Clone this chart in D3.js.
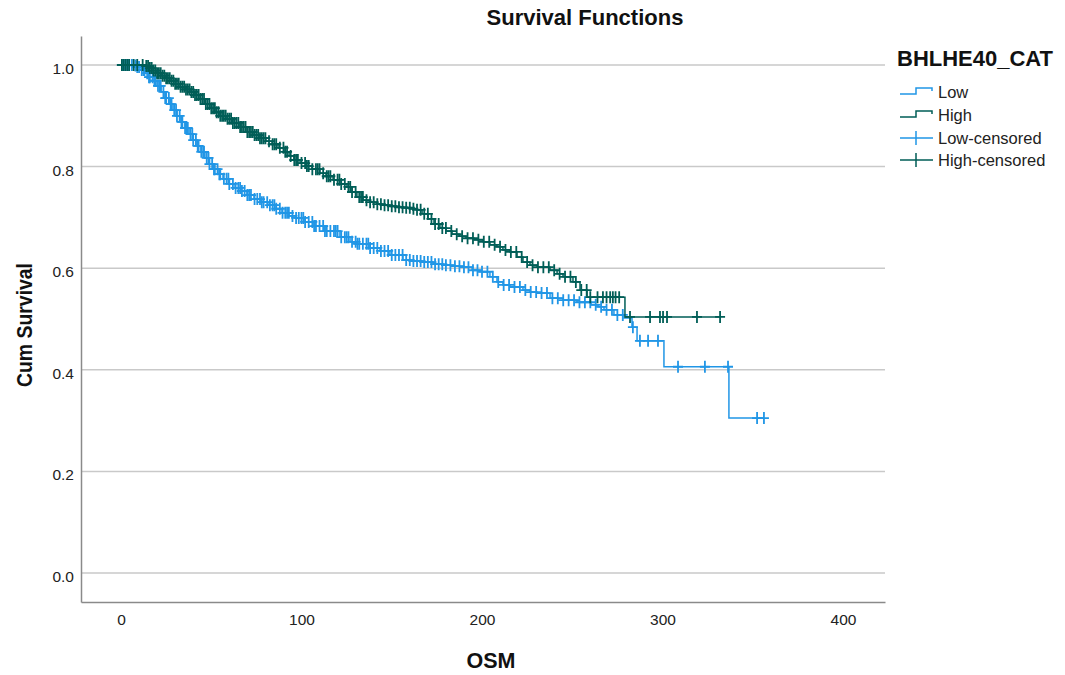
<!DOCTYPE html>
<meta charset="utf-8">
<title>Survival Functions</title>
<style>
body { margin: 0; background: #fff; }
svg { font-family: "Liberation Sans", Arial, sans-serif; }
</style>
<svg id="chart" width="1065" height="675"></svg>
<script src="https://cdn.jsdelivr.net/npm/d3@7"></script>
<script>
// step points: time (OSM) and cumulative survival after the event
var lowTimes = [0, 6.6, 8.9, 11.1, 13.3, 15.5, 17.7, 19.9, 22.2, 24.4, 26.6, 28.8, 31.0, 33.2, 35.5, 37.7, 39.9, 42.1, 44.3, 46.5, 48.8, 51.0, 53.7, 56.5, 59.8, 63.2, 66.5, 69.8, 73.7, 77.6, 81.4, 85.3, 89.2, 93.1, 97.0, 101.9, 106.4, 113.0, 121.3, 126.9, 130.7, 137.9, 143.5, 149.0, 156.2, 161.8, 167.3, 172.9, 178.4, 183.9, 189.5, 194.5, 198.9, 204.4, 208.3, 211.6, 215.5, 222.7, 226.6, 230.5, 237.7, 244.9, 252.6, 260.4, 264.3, 267.6, 273.1, 278.7, 283.1, 285.9, 300.8, 336.8];
var lowSurv = [1.0, 0.999, 0.996, 0.990, 0.984, 0.976, 0.969, 0.959, 0.947, 0.935, 0.923, 0.911, 0.900, 0.888, 0.876, 0.864, 0.852, 0.841, 0.829, 0.817, 0.805, 0.795, 0.785, 0.776, 0.766, 0.758, 0.752, 0.744, 0.736, 0.730, 0.724, 0.717, 0.709, 0.703, 0.699, 0.691, 0.683, 0.673, 0.661, 0.652, 0.648, 0.640, 0.634, 0.626, 0.616, 0.614, 0.612, 0.608, 0.606, 0.604, 0.602, 0.596, 0.593, 0.583, 0.573, 0.567, 0.563, 0.557, 0.553, 0.551, 0.541, 0.537, 0.533, 0.528, 0.524, 0.518, 0.508, 0.502, 0.484, 0.457, 0.406, 0.305];
var lowCensored = [0.5, 1.5, 2.5, 3.5, 4.5, 6, 8, 9, 10, 11.5, 12.5, 13, 14.5, 15.5, 16, 17.5, 18.5, 19, 20.5, 21.5, 22, 23.5, 24.5, 25, 26.5, 27.5, 28, 29.5, 30.5, 31, 32.5, 33.5, 34, 35.5, 36.5, 37, 38.5, 39.5, 40, 41.5, 42.5, 43, 44.5, 45.5, 46, 47.5, 48.5, 49, 50.5, 51.5, 52, 53.5, 54.5, 55, 57, 58.5, 59.5, 60, 62, 63.5, 65, 66, 67, 68.5, 70, 71, 72, 74, 75.5, 77, 78, 79, 81, 82.5, 84, 85, 86, 88, 89.5, 91, 92, 93, 95, 97, 98.5, 100, 101, 102, 104, 106, 107, 108, 110, 112, 113, 114, 116, 118, 119, 120, 122, 124, 125, 126, 128, 130, 131, 132, 134, 136, 137, 138, 140, 142, 144, 146, 148, 150, 152, 154, 156, 158, 160, 162, 164, 166, 168, 170, 172, 174, 176, 178, 180, 182.5, 185, 187.5, 190, 192.5, 195, 197.5, 200, 203, 206, 209, 212, 215, 218, 221, 224, 227, 230, 233, 236, 239, 242, 245, 248, 251, 254, 257, 260, 263, 266, 269, 272, 275, 278, 283.6, 287.5, 292, 297.5, 308.6, 323.5, 336.3, 352.4, 356.2];

var highTimes = [0, 13.3, 15.5, 17.7, 19.9, 22.2, 24.4, 27.1, 30.0, 32.7, 35.5, 38.2, 41.0, 43.8, 46.5, 49.3, 52.1, 54.8, 58.2, 62.0, 65.9, 69.8, 73.7, 77.0, 80.3, 83.7, 87.0, 90.3, 93.1, 95.8, 99.2, 102.5, 105.8, 110.2, 113.6, 117.5, 121.3, 125.2, 128.0, 130.7, 134.1, 137.9, 141.8, 145.2, 149.0, 152.4, 156.2, 160.1, 164.0, 166.8, 170.1, 173.4, 176.7, 180.1, 183.4, 187.3, 191.1, 195.6, 200.6, 204.4, 208.3, 211.6, 215.5, 219.4, 222.7, 226.6, 230.5, 237.7, 241.6, 244.9, 250.4, 254.3, 258.2, 279.2];
var highSurv = [1.0, 0.998, 0.994, 0.989, 0.984, 0.979, 0.974, 0.969, 0.963, 0.957, 0.952, 0.947, 0.941, 0.933, 0.923, 0.915, 0.907, 0.900, 0.894, 0.886, 0.878, 0.868, 0.862, 0.856, 0.850, 0.844, 0.837, 0.829, 0.821, 0.813, 0.807, 0.801, 0.795, 0.787, 0.781, 0.774, 0.766, 0.760, 0.750, 0.740, 0.734, 0.730, 0.726, 0.724, 0.722, 0.720, 0.719, 0.717, 0.715, 0.707, 0.697, 0.687, 0.679, 0.673, 0.667, 0.663, 0.659, 0.656, 0.652, 0.646, 0.642, 0.636, 0.632, 0.622, 0.612, 0.606, 0.602, 0.596, 0.589, 0.583, 0.573, 0.557, 0.543, 0.504];
var highCensored = [0.5, 1.5, 2.5, 3.5, 4.5, 7, 9, 12, 14, 15, 16, 17, 18, 19, 20, 21, 22, 23, 24, 25, 26, 27, 28, 29, 30, 31, 32, 33, 34, 35, 36, 37, 38, 39, 40, 41, 42, 43, 44, 45, 46, 47, 48, 49, 50, 51, 52, 53, 54, 55, 56, 57, 58, 59, 60, 61, 62, 63, 64, 65, 66, 67, 68, 69, 70, 71, 72, 73, 74, 75, 76, 77, 78, 79, 80, 82, 84, 85, 86, 88, 90, 91, 92, 94, 96, 97, 98, 100, 102, 103, 104, 106, 108, 109, 110, 112, 114, 115, 116, 118, 120, 121, 122, 124, 126, 127, 128, 130, 132, 133, 134, 136, 138, 140, 142, 144, 146, 148, 150, 152, 154, 156, 158, 160, 162, 164, 166, 168, 170, 172, 174, 176, 178, 180, 183, 186, 189, 192, 195, 198, 201, 204, 207, 210, 213, 216, 219, 222, 225, 228, 231, 234, 237, 240, 243, 246, 249, 252, 255, 258, 260, 264, 267, 269, 271, 272.5, 274, 276, 282, 293.1, 298.6, 300.3, 302.5, 319.1, 331.9];

var xTicks = [0, 100, 200, 300, 400];
var yTicks = [0, 0.2, 0.4, 0.6, 0.8, 1.0];
var legendLabels = ["Low", "High", "Low-censored", "High-censored"];

var lowColor = "#2196e6";
var highColor = "#005e57";

var svg = d3.select("#chart");

var x = d3.scaleLinear().domain([-22.16, 423.27]).range([81, 885]);
var y = d3.scaleLinear().domain([-0.0571, 1.0571]).range([602, 36]);

// gridlines
svg.append("g")
	.selectAll("line")
	.data(yTicks)
	.enter().append("line")
	.attr("x1", 81)
	.attr("x2", 885)
	.attr("y1", d => y(d))
	.attr("y2", d => y(d))
	.attr("stroke", "#c9c9c9")
	.attr("stroke-width", 1.5);

var xAxis = svg.append("g")
	.attr("transform", "translate(0,602)")
	.call(d3.axisBottom(x).tickValues(xTicks).tickSize(0).tickPadding(12).tickFormat(d3.format("d")));

var yAxis = svg.append("g")
	.attr("transform", "translate(81,0)")
	.call(d3.axisLeft(y).tickValues(yTicks).tickSize(0).tickPadding(7).tickFormat(d3.format(".1f")));

[xAxis, yAxis].forEach(function(ax) {
	ax.select(".domain").attr("stroke", "#8a8a8a").attr("stroke-width", 1.5);
	ax.selectAll("text")
		.attr("font-family", "Liberation Sans, Arial, sans-serif")
		.attr("font-size", 15.5)
		.attr("fill", "#222");
});
yAxis.selectAll("text").attr("dy", "0.55em");

function stepData(times, surv, censored) {
	var pts = times.map((t, i) => [t, surv[i]]);
	var last = censored[censored.length - 1];
	pts.push([last, surv[surv.length - 1]]);
	return pts;
}

function survAt(times, surv, t) {
	var s = surv[0];
	for (var i = 0; i < times.length; i++) {
		if (times[i] <= t) s = surv[i];
	}
	return s;
}

var line = d3.line()
	.x(d => x(d[0]))
	.y(d => y(d[1]))
	.curve(d3.curveStepAfter);

var groups = [
	{times: lowTimes, surv: lowSurv, cens: lowCensored, color: lowColor},
	{times: highTimes, surv: highSurv, cens: highCensored, color: highColor}
];

groups.forEach(function(g) {
	svg.append("path")
		.datum(stepData(g.times, g.surv, g.cens))
		.attr("d", line)
		.attr("fill", "none")
		.attr("stroke", g.color)
		.attr("stroke-width", 1.5);

	svg.append("g")
		.selectAll("path")
		.data(g.cens)
		.enter().append("path")
		.attr("d", function(t) {
			var cx = x(t), cy = y(survAt(g.times, g.surv, t));
			return "M" + (cx - 5) + "," + cy + "H" + (cx + 5) + "M" + cx + "," + (cy - 6) + "V" + (cy + 6);
		})
		.attr("stroke", g.color)
		.attr("stroke-width", 1.8)
		.attr("fill", "none");
});

// titles
svg.append("text")
	.attr("x", 585)
	.attr("y", 25)
	.attr("text-anchor", "middle")
	.attr("font-weight", "bold")
	.attr("font-size", 22)
	.attr("fill", "#111")
	.text("Survival Functions");

svg.append("text")
	.attr("x", 491)
	.attr("y", 668)
	.attr("text-anchor", "middle")
	.attr("font-weight", "bold")
	.attr("font-size", 21.5)
	.attr("fill", "#111")
	.text("OSM");

svg.append("text")
	.attr("transform", "translate(32,325) rotate(-90)")
	.attr("text-anchor", "middle")
	.attr("font-weight", "bold")
	.attr("font-size", 22)
	.attr("textLength", 124)
	.attr("lengthAdjust", "spacingAndGlyphs")
	.attr("fill", "#111")
	.text("Cum Survival");

// legend
var legend = svg.append("g");
legend.append("text")
	.attr("x", 897)
	.attr("y", 66)
	.attr("font-weight", "bold")
	.attr("font-size", 22)
	.attr("fill", "#111")
	.text("BHLHE40_CAT");

var legendBase = [98, 121, 144, 166];
var legendColors = [lowColor, highColor, lowColor, highColor];

legendLabels.forEach(function(lab, i) {
	var b = legendBase[i], c = b - 6;
	var d;
	if (i < 2) {
		d = "M900," + (c + 2) + "H916V" + (c - 4) + "H932V" + (c - 1);
	} else {
		d = "M900," + c + "H933M916," + (c - 7) + "V" + (c + 7);
	}
	legend.append("path")
		.attr("d", d)
		.attr("fill", "none")
		.attr("stroke", legendColors[i])
		.attr("stroke-width", 1.5);
	legend.append("text")
		.attr("x", 938)
		.attr("y", b)
		.attr("font-size", 16.5)
		.attr("fill", "#222")
		.text(lab);
});
</script>
